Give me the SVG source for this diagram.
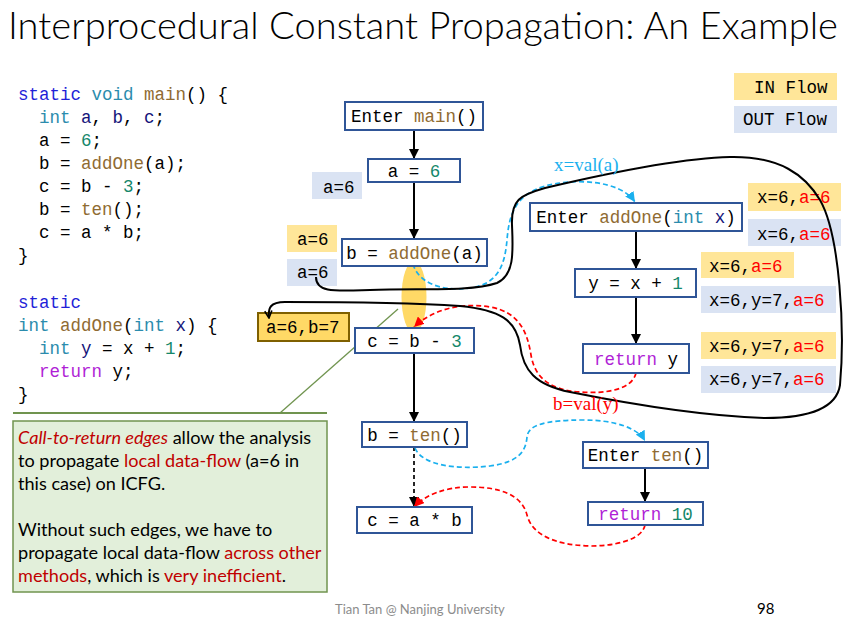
<svg xmlns="http://www.w3.org/2000/svg" width="844" height="640" viewBox="0 0 844 640">
<style>
.mono{font-family:"Liberation Mono","DejaVu Sans Mono",monospace;font-size:17.5px;fill:#000}
.kw{fill:#1f1fd8}.ty{fill:#2b8cad}.fn{fill:#8f6b32}.vr{fill:#14147a}.num{fill:#14876a}.ret{fill:#b01fd6}.rd{fill:#ff0000}
.box{fill:#fff;stroke:#2f5597;stroke-width:2}
.inf{fill:#ffe699}.outf{fill:#dae3f3}
.edge{stroke:#000;stroke-width:2;fill:none}
.blue{stroke:#1ab0ee;stroke-width:1.7;fill:none;stroke-dasharray:5 3}
.red{stroke:#ff0000;stroke-width:1.7;fill:none;stroke-dasharray:5 3}
.sans{font-family:Lato,"Open Sans","Liberation Sans",sans-serif}
.ser{font-family:"Liberation Serif","Times New Roman",serif;font-size:19px}
.cr{fill:#c00000}
</style>
<defs>
<marker id="ah" viewBox="0 0 10 10" refX="10" refY="5" markerWidth="10" markerHeight="10" markerUnits="userSpaceOnUse" orient="auto"><path d="M0,0 L10,5 L0,10 z" fill="#000"/></marker>
<marker id="ahb" viewBox="0 0 10 10" refX="10" refY="5" markerWidth="10" markerHeight="10" markerUnits="userSpaceOnUse" orient="auto"><path d="M0,0 L10,5 L0,10 z" fill="#1ab0ee"/></marker>
<marker id="ahr" viewBox="0 0 10 10" refX="10" refY="5" markerWidth="10" markerHeight="10" markerUnits="userSpaceOnUse" orient="auto"><path d="M0,0 L10,5 L0,10 z" fill="#ff0000"/></marker>
<marker id="aho" viewBox="0 0 10 10" refX="9" refY="5" markerWidth="9" markerHeight="9" markerUnits="userSpaceOnUse" orient="auto"><path d="M1,1 L9,5 L1,9" fill="none" stroke="#000" stroke-width="1.8"/></marker>
</defs>

<rect width="844" height="640" fill="#fff"/>

<text x="8" y="39" class="sans" font-size="37" font-weight="300" textLength="830" lengthAdjust="spacingAndGlyphs">Interprocedural Constant Propagation: An Example</text>

<g id="code" class="mono">
<text x="18" y="100"><tspan class="kw">static</tspan> <tspan class="ty">void</tspan> <tspan class="fn">main</tspan>() {</text>
<text x="39" y="123"><tspan class="ty">int</tspan> <tspan class="vr">a</tspan>, <tspan class="vr">b</tspan>, <tspan class="vr">c</tspan>;</text>
<text x="39" y="146">a = <tspan class="num">6</tspan>;</text>
<text x="39" y="169">b = <tspan class="fn">addOne</tspan>(a);</text>
<text x="39" y="192">c = b - <tspan class="num">3</tspan>;</text>
<text x="39" y="215">b = <tspan class="fn">ten</tspan>();</text>
<text x="39" y="238">c = a * b;</text>
<text x="18" y="261">}</text>
<text x="18" y="308"><tspan class="kw">static</tspan></text>
<text x="18" y="331"><tspan class="ty">int</tspan> <tspan class="fn">addOne</tspan>(<tspan class="ty">int</tspan> <tspan class="vr">x</tspan>) {</text>
<text x="39" y="354"><tspan class="ty">int</tspan> <tspan class="vr">y</tspan> = x + <tspan class="num">1</tspan>;</text>
<text x="39" y="377"><tspan class="ret">return</tspan> y;</text>
<text x="18" y="400">}</text>
</g>

<g id="legend" class="mono">
<rect x="734" y="73" width="103" height="27" class="inf"/>
<text x="754" y="92.5">IN Flow</text>
<rect x="734" y="106" width="103" height="27" class="outf"/>
<text x="743" y="125">OUT Flow</text>
</g>

<ellipse id="call-to-return-highlight" cx="414" cy="297" rx="12.5" ry="36" fill="#ffd966"/>

<g id="callout">
<line x1="13" y1="413" x2="327" y2="413" stroke="#70944f" stroke-width="2"/>
<line x1="398" y1="309" x2="280" y2="413" stroke="#70944f" stroke-width="1.3"/>
<rect x="13" y="421" width="314" height="171" fill="#e2efda" stroke="#70944f" stroke-width="1.5"/>
<g class="sans" font-size="18.1">
<text x="18" y="444"><tspan class="cr" font-style="italic">Call-to-return edges</tspan> allow the analysis</text>
<text x="18" y="467">to propagate <tspan class="cr">local data-flow</tspan> (a=6 in</text>
<text x="18" y="490">this case) on ICFG.</text>
<text x="18" y="536">Without such edges, we have to</text>
<text x="18" y="559">propagate local data-flow <tspan class="cr">across other</tspan></text>
<text x="18" y="582"><tspan class="cr">methods</tspan>, which is <tspan class="cr">very inefficient</tspan>.</text>
</g>
</g>

<g id="flow-labels" class="mono">
<rect x="312" y="172" width="50" height="27" class="outf"/><text x="323" y="193">a=6</text>
<rect x="287" y="225" width="50" height="27" class="inf"/><text x="297" y="245">a=6</text>
<rect x="287" y="259" width="50" height="27" class="outf"/><text x="297" y="278">a=6</text>
<rect x="258" y="313" width="91" height="28" fill="#ffd966" stroke="#7f6000" stroke-width="2"/><text x="266" y="333">a=6,b=7</text>
<rect x="748" y="183" width="93" height="28" class="inf"/><text x="757" y="203">x=6,<tspan class="rd">a=6</tspan></text>
<rect x="748" y="219" width="93" height="27" class="outf"/><text x="757" y="240">x=6,<tspan class="rd">a=6</tspan></text>
<rect x="701" y="252" width="93" height="26" class="inf"/><text x="709" y="272">x=6,<tspan class="rd">a=6</tspan></text>
<rect x="701" y="286" width="135" height="27" class="outf"/><text x="709" y="306">x=6,y=7,<tspan class="rd">a=6</tspan></text>
<rect x="701" y="332" width="135" height="27" class="inf"/><text x="709" y="352">x=6,y=7,<tspan class="rd">a=6</tspan></text>
<rect x="701" y="366" width="135" height="27" class="outf"/><text x="709" y="385">x=6,y=7,<tspan class="rd">a=6</tspan></text>
</g>

<g id="connectors">
<line x1="414" y1="130" x2="414" y2="159" class="edge" marker-end="url(#ah)"/>
<line x1="414" y1="182" x2="414" y2="239" class="edge" marker-end="url(#ah)"/>
<line x1="414" y1="353" x2="414" y2="422" class="edge" marker-end="url(#ah)"/>
<line x1="414" y1="447" x2="414" y2="507" stroke="#000" stroke-width="1.7" stroke-dasharray="4 3" marker-end="url(#ah)"/>
<line x1="636" y1="231" x2="636" y2="269" class="edge" marker-end="url(#ah)"/>
<line x1="636" y1="297" x2="636" y2="344" class="edge" marker-end="url(#ah)"/>
<line x1="645" y1="468" x2="645" y2="502" class="edge" marker-end="url(#ah)"/>
<path d="M413,264 C418,282 440,292 470,288 C500,284 505,262 507,240 C509,215 515,195 545,186 C575,178 620,180 635,202" class="blue" marker-end="url(#ahb)"/>
<path d="M415,448 C422,465 455,470 490,466 C520,462 526,450 527,437 C528,425 545,420 583,420 C615,420 638,428 645,441" class="blue" marker-end="url(#ahb)"/>
<path d="M636,373 C632,390 605,394 580,392 C550,390 535,378 531,355 C527,330 518,312 490,307 C460,302 432,310 414,327" class="red" marker-end="url(#ahr)"/>
<path d="M645,525 C642,540 615,546 590,546 C555,545 532,535 527,515 C522,495 500,487 470,487 C445,487 425,495 414,507" class="red" marker-end="url(#ahr)"/>
<path d="M316,277 C316,293 335,291 370,290 C420,288 470,292 497,283 C515,275 513,250 512,225 C511,200 520,195 545,188 C600,175 680,158 730,157 C780,156 805,175 820,200 C840,235 845,330 840,385 C836,412 800,418 765,418 C700,416 620,402 570,392 C535,385 523,370 520,345 C516,320 500,310 460,306 C400,302 330,302 285,302 C270,302 268,308 269,318" stroke="#000" stroke-width="2" fill="none" marker-end="url(#aho)"/>
<text x="554" y="171" class="ser" fill="#1ab0ee">x=val(a)</text>
<text x="553" y="410" class="ser" fill="#ff0000">b=val(y)</text>
</g>

<g id="node-enter-main" class="mono"><rect x="345" y="102" width="138" height="28" class="box"/><text x="414" y="122" text-anchor="middle">Enter <tspan class="fn">main</tspan>()</text></g>
<g id="node-a6" class="mono"><rect x="368" y="159" width="92" height="23" class="box"/><text x="414" y="176.5" text-anchor="middle">a = <tspan class="num">6</tspan></text></g>
<g id="node-b-addone" class="mono"><rect x="342" y="239" width="145" height="27" class="box"/><text x="414.5" y="258.5" text-anchor="middle">b = <tspan class="fn">addOne</tspan>(a)</text></g>
<g id="node-c-b3" class="mono"><rect x="355" y="328" width="119" height="25" class="box"/><text x="414.5" y="346.5" text-anchor="middle">c = b - <tspan class="num">3</tspan></text></g>
<g id="node-b-ten" class="mono"><rect x="362" y="422" width="105" height="25" class="box"/><text x="414.5" y="440.5" text-anchor="middle">b = <tspan class="fn">ten</tspan>()</text></g>
<g id="node-c-ab" class="mono"><rect x="357" y="507" width="115" height="26" class="box"/><text x="414.5" y="526" text-anchor="middle">c = a * b</text></g>
<g id="node-enter-addone" class="mono"><rect x="530" y="203" width="212" height="28" class="box"/><text x="636" y="223" text-anchor="middle">Enter <tspan class="fn">addOne</tspan>(<tspan class="ty">int</tspan> <tspan class="vr">x</tspan>)</text></g>
<g id="node-y-x1" class="mono"><rect x="575" y="269" width="121" height="28" class="box"/><text x="635.5" y="289" text-anchor="middle">y = x + <tspan class="num">1</tspan></text></g>
<g id="node-return-y" class="mono"><rect x="583" y="344" width="106" height="29" class="box"/><text x="636" y="364.5" text-anchor="middle"><tspan class="ret">return</tspan> y</text></g>
<g id="node-enter-ten" class="mono"><rect x="583" y="442" width="125" height="26" class="box"/><text x="645.5" y="461" text-anchor="middle">Enter <tspan class="fn">ten</tspan>()</text></g>
<g id="node-return-10" class="mono"><rect x="588" y="502" width="115" height="23" class="box"/><text x="645.5" y="519.5" text-anchor="middle"><tspan class="ret">return</tspan> <tspan class="num">10</tspan></text></g>

<g id="footer">
<text x="335" y="614" class="sans" font-size="13" fill="#8c8c8c">Tian Tan @ Nanjing University</text>
<text x="757" y="614" class="sans" font-size="15" fill="#000">98</text>
</g>
</svg>
